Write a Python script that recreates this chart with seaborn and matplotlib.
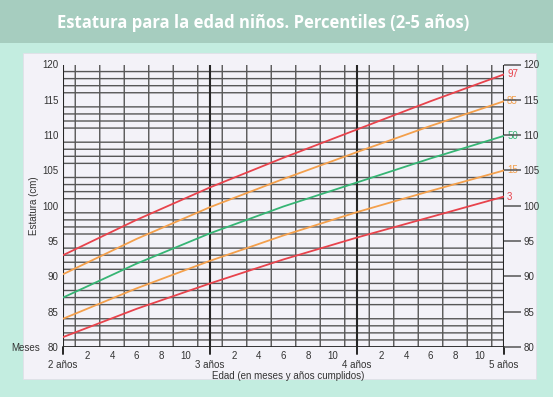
import numpy as np
import pandas as pd
import matplotlib
matplotlib.use("Agg")
import matplotlib.pyplot as plt
from matplotlib.patches import Rectangle
import matplotlib.transforms as mtransforms
import seaborn as sns

# Data: age in months, height in cm
MONTHS = [24, 30, 36, 42, 48, 54, 60]
P3 = [81.4, 85.4, 89.0, 92.4, 95.5, 98.4, 101.3]
P15 = [84.0, 88.3, 92.2, 95.8, 99.1, 102.1, 105.0]
P50 = [87.0, 91.8, 96.1, 99.9, 103.3, 106.7, 109.9]
P85 = [90.3, 95.3, 99.8, 103.8, 107.6, 111.3, 114.8]
P97 = [93.0, 98.0, 102.6, 106.8, 110.8, 114.8, 118.6]

PERCENTILES = ["97", "85", "50", "15", "3"]
COLORS = {"97": "#e8434c", "85": "#f4a04c", "50": "#36b574", "15": "#f4a04c", "3": "#e8434c"}

MONTH_TICKS = [26, 28, 30, 32, 34, 38, 40, 42, 44, 46, 50, 52, 54, 56, 58]
MONTH_LABELS = ["2", "4", "6", "8", "10"] * 3
YEAR_POS = [24, 36, 48, 60]
YEAR_LABELS = ["2 años", "3 años", "4 años", "5 años"]
Y_TICKS = [80, 85, 90, 95, 100, 105, 110, 115, 120]

TITLE = "Estatura para la edad niños. Percentiles (2-5 años)"

W, H = 553, 397
MINT = "#c3ede0"
BAR = "#a6cdbf"
PANEL = "#f3f2f8"
GRID = "#575757"
TXT = "#333333"

sns.set_style("white")
plt.rcParams["font.family"] = ["Liberation Sans Narrow", "Liberation Sans", "DejaVu Sans"]

df = pd.DataFrame({
    "month": MONTHS * 5,
    "height": P97 + P85 + P50 + P15 + P3,
    "pct": sum([[p] * len(MONTHS) for p in PERCENTILES], []),
})

fig = plt.figure(figsize=(W / 100, H / 100), dpi=100)
fig.patch.set_facecolor(MINT)

# title bar and white panel (drawn behind the axes)
fig.patches.append(Rectangle((0, 1 - 43 / H), 1, 43 / H, transform=fig.transFigure,
                             facecolor=BAR, edgecolor="none", zorder=-10))
fig.patches.append(Rectangle((23 / W, 1 - 379 / H), 513 / W, 326 / H, transform=fig.transFigure,
                             facecolor=PANEL, edgecolor="#e0e0e8", lw=0.6, zorder=-10))
fig.text(263 / W, 1 - 23 / H, TITLE, ha="center", va="center", color="white",
         fontsize=12, fontweight="bold", family=["Open Sans", "DejaVu Sans"])

ax = fig.add_axes([63 / W, 1 - 347 / H, 441 / W, 282.5 / H])
ax.set_zorder(2)
ax.set_facecolor(PANEL)

ax.set_xlim(24, 60)
ax.set_ylim(80, 120)

# paper grid: every month / every cm
ax.set_xticks(np.arange(24, 61, 1), minor=True)
ax.set_yticks(np.arange(80, 120.5, 1), minor=True)
ax.grid(which="minor", color=GRID, lw=1.0, snap=False)
for x in [24, 36, 48, 60]:
    ax.axvline(x, color="#262626", lw=1.5, zorder=1)
ax.axhline(80, color="#262626", lw=1.3, zorder=1)

sns.lineplot(data=df, x="month", y="height", hue="pct", palette=COLORS,
             hue_order=PERCENTILES, lw=1.3, legend=False, ax=ax, zorder=3)

for pct, vals in zip(PERCENTILES, [P97, P85, P50, P15, P3]):
    ax.text(60.25, vals[-1], pct, color=COLORS[pct], fontsize=7, ha="left", va="center",
            zorder=5, clip_on=False)

for s in ax.spines.values():
    s.set_visible(False)

ax.set_xticks(MONTH_TICKS)
ax.set_xticklabels(MONTH_LABELS)
ax.set_yticks(Y_TICKS)
ax.set_yticklabels([str(v) for v in Y_TICKS])
ax.tick_params(axis="both", which="major", length=0, labelsize=7, colors=TXT, pad=3)
ax.tick_params(axis="both", which="minor", length=0)
ax.set_xlabel("")
ax.set_ylabel("Estatura (cm)", fontsize=7, color=TXT, labelpad=3)

trans = mtransforms.blended_transform_factory(ax.transData, ax.transAxes)
for x, lab in zip(YEAR_POS, YEAR_LABELS):
    ax.text(x, -0.045, lab, transform=trans, ha="center", va="top", fontsize=7, color=TXT)
    ax.plot([x, x], [0, -0.025], transform=trans, color="#262626", lw=1.4, clip_on=False)
ax.text(-0.052, -0.005, "Meses", transform=ax.transAxes, ha="right", va="center",
        fontsize=7, color=TXT)
ax.text(0.51, -0.085, "Edad (en meses y años cumplidos)", transform=ax.transAxes,
        ha="center", va="top", fontsize=7, color=TXT)

ax2 = ax.twinx()
ax2.set_zorder(3)
ax2.patch.set_visible(False)
ax2.set_ylim(80, 120)
ax2.set_yticks(Y_TICKS)
ax2.set_yticklabels([str(v) for v in Y_TICKS])
ax2.tick_params(axis="y", length=12, width=1.1, color="#555555", labelsize=7, pad=2)
for lbl in ax2.get_yticklabels():
    lbl.set_color(TXT)
for s in ax2.spines.values():
    s.set_visible(False)
ax2.grid(False)

fig.savefig("out.png", dpi=100, facecolor=fig.get_facecolor())
